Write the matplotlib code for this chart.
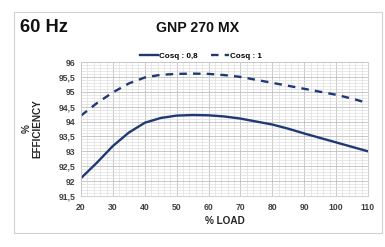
import matplotlib
matplotlib.use("Agg")
import matplotlib.pyplot as plt
from matplotlib.patches import Rectangle
from matplotlib.ticker import MultipleLocator, FuncFormatter

plt.rcParams["font.family"] = ["Liberation Sans", "DejaVu Sans"]

load = [20, 25, 30, 35, 40, 45, 50, 55, 60, 65, 70, 75, 80, 85, 90, 95, 100, 105, 110]
eff_cos08 = [92.1, 92.62, 93.18, 93.63, 93.96, 94.12, 94.2, 94.22, 94.21, 94.17, 94.1,
             94.0, 93.9, 93.76, 93.6, 93.45, 93.3, 93.15, 93.0]
eff_cos1 = [94.2, 94.62, 94.98, 95.28, 95.48, 95.57, 95.6, 95.61, 95.6, 95.56, 95.5,
            95.4, 95.3, 95.2, 95.1, 95.0, 94.9, 94.77, 94.62]

NAVY = "#1f3a73"
TXT = "#262626"

fig = plt.figure(figsize=(3.85, 2.47), dpi=100)

# outer chart frame
fig.patches.append(Rectangle((14 / 385, 1 - 233 / 247), 368 / 385, 221 / 247,
                             transform=fig.transFigure, fill=False,
                             edgecolor="#d0d0d0", linewidth=0.8))

ax = fig.add_axes([81 / 385, 1 - 196 / 247, 287 / 385, 134 / 247])
ax.plot(load, eff_cos08, color=NAVY, lw=1.7, label="Cosq : 0,8")
ax.plot(load, eff_cos1, color=NAVY, lw=1.7, ls=(0, (3.2, 2.6)), label="Cosq : 1")

ax.set_xlim(20, 110)
ax.set_ylim(91.5, 96)
ax.xaxis.set_major_locator(MultipleLocator(10))
ax.xaxis.set_minor_locator(MultipleLocator(2))
ax.yaxis.set_major_locator(MultipleLocator(0.5))
ax.yaxis.set_minor_locator(MultipleLocator(0.1))
ax.yaxis.set_major_formatter(FuncFormatter(lambda v, p: f"{v:g}".replace(".", ",")))
ax.grid(which="major", color="#bfbfbf", lw=0.6)
ax.grid(which="minor", color="#dedede", lw=0.5)
ax.set_axisbelow(True)
ax.tick_params(which="both", length=0)
ax.tick_params(axis="x", pad=5)
ax.tick_params(axis="y", pad=4)
for lab in ax.get_xticklabels() + ax.get_yticklabels():
    lab.set_fontsize(6.2)
    lab.set_fontweight("bold")
    lab.set_color("#404040")
for s in ax.spines.values():
    s.set_color("#c8c8c8")
    s.set_linewidth(0.6)

ax.set_xlabel("% LOAD", fontsize=7.2, fontweight="bold", color=TXT, labelpad=3)
fig.text(32 / 385, 1 - 129 / 247, "%\nEFFICIENCY", rotation=90, ha="center", va="center",
         fontsize=7.2, fontweight="bold", color=TXT, linespacing=1.1)

fig.text(20 / 385, 1 - 27 / 247, "60 Hz", fontsize=13.2, fontweight="bold",
         color="#111111", va="center", ha="left")
fig.text(198 / 385, 1 - 27.5 / 247, "GNP 270 MX", fontsize=10.2, fontweight="bold",
         color="#111111", va="center", ha="center")

fig.legend(loc="center", bbox_to_anchor=(201 / 385, 1 - 56 / 247), ncol=2,
           frameon=False, prop={"size": 5.8, "weight": "bold"},
           handlelength=2.2, handletextpad=0.2, columnspacing=1.6, borderpad=0)

fig.savefig("out.png", dpi=100)
